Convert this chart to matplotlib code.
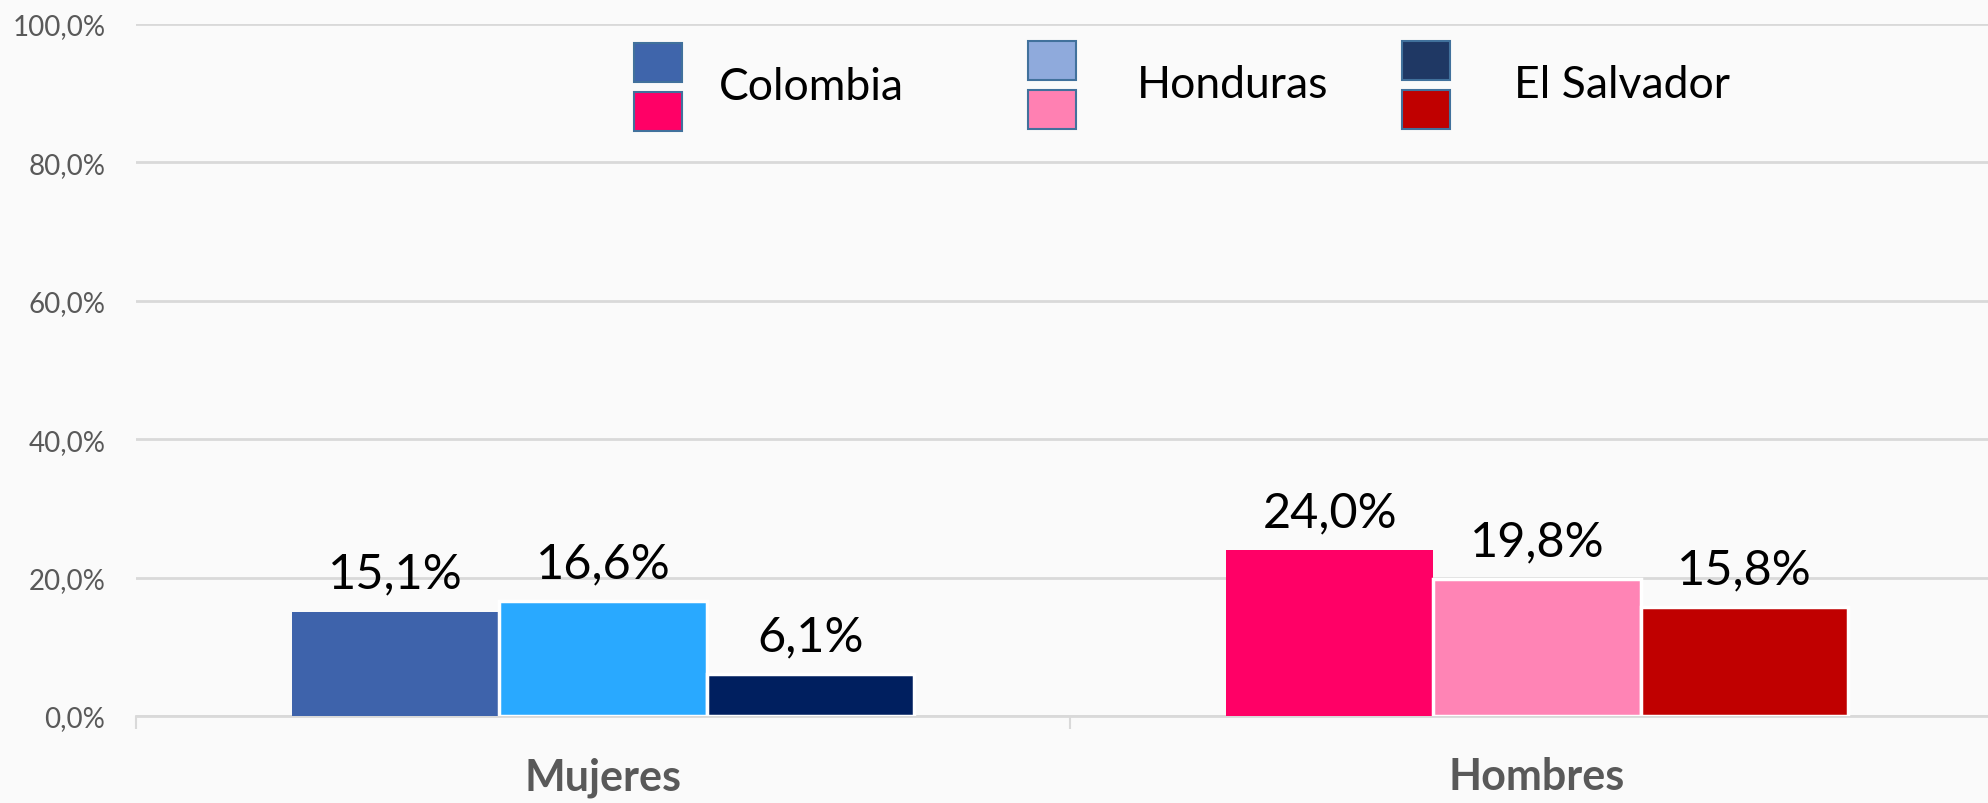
import matplotlib.pyplot as plt
import numpy as np
from matplotlib.patches import Rectangle

plt.rcParams['font.family'] = ['Lato', 'DejaVu Sans']

categories = ['Mujeres', 'Hombres']
countries = ['Colombia', 'Honduras', 'El Salvador']
# values per country: [Mujeres, Hombres]
values = {
    'Colombia': [15.1, 24.0],
    'Honduras': [16.6, 19.8],
    'El Salvador': [6.1, 15.8],
}
# bar colours per country: [Mujeres, Hombres]
bar_colors = {
    'Colombia': ['#3E63AB', '#FF0066'],
    'Honduras': ['#29A9FF', '#FF84B5'],
    'El Salvador': ['#001F5F', '#C00000'],
}
# legend swatch colours (top, bottom)
legend_colors = {
    'Colombia': ['#3F65AB', '#FF0066'],
    'Honduras': ['#8FAADC', '#FF80B2'],
    'El Salvador': ['#1F3864', '#C00000'],
}
yticks = [0, 20, 40, 60, 80, 100]

W, H = 1988, 804
fig = plt.figure(figsize=(W / 100, H / 100), dpi=100)
fig.patch.set_facecolor('#FAFAFA')
ax = fig.add_axes([136 / W, 1 - 717 / H, 1868 / W, 692 / H])
ax.set_facecolor('none')

x = np.arange(len(categories))
bw = 0.222
for i, c in enumerate(countries):
    xs = x + (i - 1) * bw
    edge = 'none' if c == 'Colombia' else 'white'
    ax.bar(xs, values[c], width=bw, color=bar_colors[c],
           edgecolor=edge, linewidth=2.5, zorder=3)
    for xx, v in zip(xs, values[c]):
        ax.annotate(f'{v:.1f}%'.replace('.', ','), (xx, v),
                    xytext=(0, 17), textcoords='offset points',
                    ha='center', va='baseline', fontsize=35, color='black')

ax.set_xlim(-0.5, 1.5)
ax.set_ylim(0, 100)
ax.set_yticks(yticks)
ax.set_yticklabels([f'{t:.1f}%'.replace('.', ',') for t in yticks],
                   fontsize=20, color='#595959')
ax.tick_params(axis='y', length=0, pad=22)
ax.grid(axis='y', color='#D9D9D9', linewidth=2, zorder=0)

ax.set_xticks(x)
ax.set_xticklabels(categories, fontsize=31, fontweight='bold', color='#595959')
ax.set_xticks([-0.5, 0.5, 1.5], minor=True)
ax.tick_params(axis='x', which='major', length=0, pad=29)
ax.tick_params(axis='x', which='minor', length=9, width=1.5, color='#D9D9D9')

for s in ['top', 'right', 'left']:
    ax.spines[s].set_visible(False)
ax.spines['bottom'].set_color('#D9D9D9')
ax.spines['bottom'].set_linewidth(2)

# custom legend: two stacked swatches per country
sq_left = [634, 1028, 1402]
sq_top = [44, 42, 42]
txt_left = [719, 1137, 1514]
sw, sh, gap = 48, 39, 10
for c, l, t, tl in zip(countries, sq_left, sq_top, txt_left):
    for k, col in enumerate(legend_colors[c]):
        top = t + k * (sh + gap)
        fig.add_artist(Rectangle((l / W, 1 - (top + sh) / H), sw / W, sh / H,
                                 transform=fig.transFigure, facecolor=col,
                                 edgecolor='#41719C', linewidth=1.5))
    fig.text(tl / W, 1 - (t + sh + gap / 2) / H, c, fontsize=32,
             va='center', ha='left', color='black')

fig.savefig('out.png', dpi=100, facecolor=fig.get_facecolor())
